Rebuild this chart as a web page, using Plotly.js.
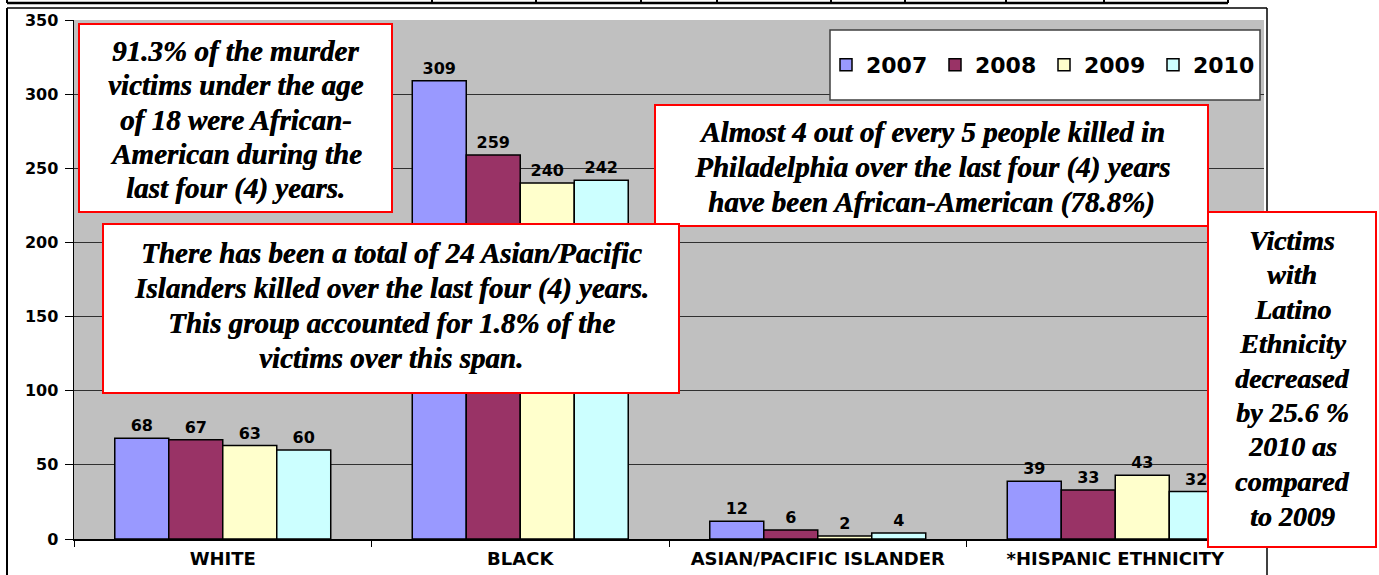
<!DOCTYPE html>
<html>
<head>
<meta charset="utf-8">
<script src="https://cdn.plot.ly/plotly-3.0.1.min.js"></script>
<style>html,body{margin:0;padding:0;background:#fff;}#chart{width:1379px;height:575px;}</style>
</head>
<body>
<div id="chart"></div>
<script>
const categories = ["WHITE", "BLACK", "ASIAN/PACIFIC ISLANDER", "*HISPANIC ETHNICITY"];
const years = ["2007", "2008", "2009", "2010"];
const values2007 = [68, 309, 12, 39];
const values2008 = [67, 259, 6, 33];
const values2009 = [63, 240, 2, 43];
const values2010 = [60, 242, 4, 32];
const yTicks = [0, 50, 100, 150, 200, 250, 300, 350];
const noteTexts = [
  "91.3% of the murder<br>victims under the age<br>of 18 were African-<br>American during the<br>last four (4) years.",
  "Almost 4 out of every 5 people killed in<br>Philadelphia over the last four (4) years<br>have been African-American (78.8%)",
  "There has been a total of 24 Asian/Pacific<br>Islanders killed over the last four (4) years.<br>This group accounted for 1.8% of the<br>victims over this span.",
  "Victims<br>with<br>Latino<br>Ethnicity<br>decreased<br>by 25.6 %<br>2010 as<br>compared<br>to 2009"
];

const colors = ["#9999FF", "#993366", "#FFFFCC", "#CCFFFF"];
const allValues = [values2007, values2008, values2009, values2010];
const sansBold = {family: "DejaVu Sans", size: 16, color: "#000", weight: "bold"};

const traces = years.map((yr, i) => ({
  type: "bar",
  name: yr,
  x: categories,
  y: allValues[i],
  text: allValues[i].map(String),
  textposition: "outside",
  cliponaxis: false,
  textfont: sansBold,
  marker: {color: colors[i], line: {color: "#000", width: 1.5}},
  hoverinfo: "none"
}));

// pixel -> paper helpers (plot area: x 74..1264, y 20..539)
const L = 74, R = 1264, T = 20, B = 539;
const px = v => (v - L) / (R - L);
const py = v => (B - v) / (B - T);

const shapes = [];
function line(x0, y0, x1, y1, w) {
  shapes.push({type: "line", xref: "paper", yref: "paper", x0: px(x0), y0: py(y0), x1: px(x1), y1: py(y1),
    line: {color: "#000", width: w}, layer: "above"});
}
// top table fragment
line(7, 3, 1228, 3, 2.5);
[7, 432, 536, 641, 717, 831, 905, 1006, 1104, 1228].forEach(x => line(x, -2, x, 3, 2));
// chart frame
line(7, 8, 1267, 8, 1.5);
line(7, 8, 7, 580, 2);
line(1267, 8, 1267, 580, 1.5);
// legend box
shapes.push({type: "rect", xref: "paper", yref: "paper", x0: px(830), x1: px(1260), y0: py(100), y1: py(30),
  fillcolor: "#fff", line: {color: "#404040", width: 1.5}, layer: "above"});

// note boxes: [left, top, right, bottom], first line centre y, line step
const boxes = [
  [79, 24, 392, 212, 51, 34.3],
  [655, 105, 1208, 226, 132, 35],
  [103, 224, 679, 393, 253, 35],
  [1208, 212, 1376, 547, 240, 34.5]
];
const noteSizes = [29, 29, 29, 28];
const annotations = [];
boxes.forEach((b, i) => {
  shapes.push({type: "rect", xref: "paper", yref: "paper", x0: px(b[0]), x1: px(b[2]), y0: py(b[3]), y1: py(b[1]),
    fillcolor: "#fff", line: {color: "#FF0000", width: 2}, layer: "above"});
  noteTexts[i].split("<br>").forEach((ln, k) => {
    annotations.push({
      xref: "paper", yref: "paper",
      x: px((b[0] + b[2]) / 2), y: py(b[4] + k * b[5]), xanchor: "center", yanchor: "middle",
      text: ln, showarrow: false, align: "center",
      font: {family: "Liberation Serif", size: noteSizes[i], color: "#000", weight: "bold", style: "italic",
        shadow: "0.5px 0 0 #000"}
    });
  });
});

const layout = {
  width: 1379, height: 575,
  margin: {l: L, r: 1379 - R, t: T, b: 575 - B, pad: 0},
  paper_bgcolor: "#fff",
  plot_bgcolor: "#C0C0C0",
  barmode: "group",
  bargap: 0.274,
  bargroupgap: 0,
  showlegend: true,
  legend: {orientation: "h", x: px(826), y: py(65), xanchor: "left", yanchor: "middle",
    bgcolor: "rgba(0,0,0,0)", borderwidth: 0,
    font: {family: "DejaVu Sans", size: 22, color: "#000", weight: "bold"},
    traceorder: "normal", entrywidth: 64, entrywidthmode: "pixels"},
  xaxis: {type: "category", showline: true, linecolor: "#000", linewidth: 1.5,
    ticks: "outside", tickson: "boundaries", ticklen: 6, tickcolor: "#000", tickwidth: 1,
    tickfont: {family: "DejaVu Sans", size: 18, color: "#000", weight: "bold"},
    ticklabelstandoff: 3, showgrid: false, fixedrange: true},
  yaxis: {range: [0, 350], tickvals: yTicks, ticktext: yTicks.map(String),
    showline: true, linecolor: "#000", linewidth: 1.5,
    ticks: "outside", ticklen: 8, tickcolor: "#000", tickwidth: 1,
    tickfont: sansBold, ticklabelstandoff: 3, showgrid: true, gridcolor: "#303030", gridwidth: 1,
    zeroline: false, fixedrange: true},
  shapes: shapes,
  annotations: annotations
};

Plotly.newPlot("chart", traces, layout, {displayModeBar: false, staticPlot: true});
</script>
</body>
</html>
